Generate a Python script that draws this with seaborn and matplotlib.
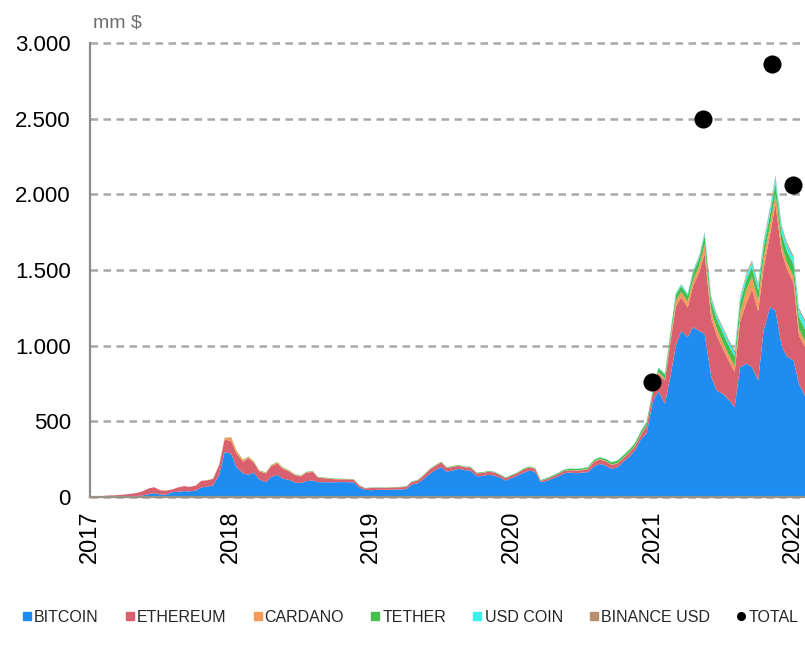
import pandas as pd
import matplotlib
matplotlib.use("Agg")
import matplotlib.pyplot as plt
import matplotlib.dates as mdates
from matplotlib.lines import Line2D
import seaborn as sns

# semi-monthly sampling (1st and 15th), values in mm $ (billions)
dates = pd.date_range("2017-01-01", "2022-02-01", freq="SMS")

bitcoin = [
    0, 0, 0, 0, 1, 2, 4, 8, 10, 13, 22, 29, 20, 18, 35, 38, 42, 40, 46, 66, 72, 80, 150, 300,
    290, 200, 160, 150, 165, 120, 100, 135, 150, 125, 115, 100, 95, 108, 112, 101, 101, 100, 101, 102, 101, 100, 65, 50,
    48, 51, 51, 51, 52, 53, 55, 85, 95, 120, 156, 180, 200, 170, 180, 189, 180, 178, 140, 142, 150, 145, 130, 112,
    130, 145, 165, 178, 170, 100, 110, 125, 140, 160, 165, 160, 165, 167, 205, 222, 210, 189, 200, 234, 270, 311, 388, 423,
    641, 700, 620, 800, 1000, 1100, 1060, 1126, 1100, 1082, 800, 707, 685, 650, 597, 861, 885, 861, 773, 1100, 1258, 1236, 1000, 930,
    906, 751, 663,
]
ethereum = [
    1, 2, 10, 13, 13, 14, 16, 16, 20, 27, 38, 39, 28, 27, 18, 28, 33, 30, 32, 43, 42, 43, 66, 83,
    83, 90, 76, 109, 65, 53, 59, 72, 74, 65, 56, 48, 44, 55, 57, 29, 26, 23, 19, 18, 18, 18, 12, 10,
    15, 13, 12, 13, 14, 14, 15, 17, 17, 22, 28, 28, 31, 24, 23, 20, 19, 20, 19, 20, 20, 20, 17, 15,
    16, 16, 22, 20, 18, 9, 12, 12, 16, 15, 15, 17, 15, 19, 30, 29, 28, 26, 25, 23, 28, 26, 28, 48,
    50, 119, 153, 223, 260, 223, 195, 273, 389, 531, 382, 366, 298, 261, 232, 300, 403, 515, 457, 411, 480, 704, 620, 579,
    512, 320, 327,
]
cardano = [
    0, 0, 0, 0, 0, 0, 0, 0, 0, 0, 0, 0, 0, 0, 0, 0, 0, 0, 0.6, 0.8, 0.8, 1.5, 3, 10,
    25, 18, 12, 9, 8, 5, 4, 6, 9, 7, 6, 4, 3.5, 3.8, 3.5, 2.5, 2.6, 2, 2.2, 2.1, 1.9, 1.8, 1, 0.8,
    1, 1.2, 1.1, 1.2, 1.2, 1.3, 1.6, 2.2, 2.0, 2.0, 2.4, 2.4, 2.3, 1.8, 1.6, 1.3, 1.2, 1.2, 1.0, 1.0, 1.2, 1.2, 1.0, 0.9,
    1.0, 1.2, 1.5, 2.2, 1.6, 0.9, 0.8, 0.9, 1.3, 1.4, 2.0, 2.2, 2.6, 3.7, 4.0, 4.0, 3.0, 2.9, 3.0, 3.0, 3.0, 3.4, 5.0, 5.0,
    5.5, 10, 12, 25, 43, 35, 38, 40, 42, 60, 55, 47, 44, 39, 41, 60, 90, 80, 70, 70, 65, 63, 50, 42,
    44, 45, 35,
]
tether = [
    0, 0, 0, 0, 0, 0, 0, 0, 0, 0, 0, 0, 0.1, 0.1, 0.1, 0.2, 0.3, 0.4, 0.4, 0.5, 0.6, 0.7, 1.0, 1.3,
    1.4, 1.6, 2.2, 2.2, 2.2, 2.3, 2.3, 2.3, 2.3, 2.5, 2.6, 2.7, 2.7, 2.7, 2.7, 2.8, 2.8, 2.8, 2.8, 2.3, 1.9, 1.8, 1.8, 1.9,
    2.0, 2.0, 2.0, 2.0, 2.0, 2.1, 2.4, 2.8, 2.9, 3.0, 3.2, 3.4, 3.6, 4.0, 4.0, 4.0, 4.0, 4.1, 4.1, 4.1, 4.1, 4.1, 4.1, 4.1,
    4.1, 4.4, 4.6, 4.6, 4.7, 5.0, 6.3, 6.6, 7.0, 8.1, 9.0, 9.2, 9.2, 9.8, 10.0, 10.0, 12.7, 14.5, 15.5, 15.9, 16.4, 17.0, 18.5, 20.0,
    21, 25, 27, 33, 36, 39, 41, 45, 50, 57, 61, 62, 62, 62, 62, 63, 66, 68, 69, 69, 70, 74, 75, 77,
    78, 78, 78,
]
usd_coin = [
    0, 0, 0, 0, 0, 0, 0, 0, 0, 0, 0, 0, 0, 0, 0, 0, 0, 0, 0, 0, 0, 0, 0, 0,
    0, 0, 0, 0, 0, 0, 0, 0, 0, 0, 0, 0, 0, 0, 0, 0, 0, 0, 0.1, 0.15, 0.2, 0.25, 0.3, 0.3,
    0.3, 0.3, 0.3, 0.25, 0.25, 0.25, 0.25, 0.25, 0.25, 0.3, 0.35, 0.4, 0.4, 0.45, 0.45, 0.45, 0.45, 0.45, 0.45, 0.45, 0.45, 0.5, 0.5, 0.5,
    0.5, 0.5, 0.5, 0.6, 0.6, 0.6, 0.7, 0.7, 0.8, 0.8, 0.9, 0.9, 1.0, 1.1, 1.2, 1.2, 1.6, 1.8, 2.0, 2.1, 2.8, 3.0, 3.1, 3.5,
    4, 5, 6, 7, 9, 10, 11, 12, 14, 17, 22, 24, 26, 27, 27, 27, 28, 30, 32, 32, 33, 37, 41, 42,
    42, 45, 49,
]
binance_usd = [
    0, 0, 0, 0, 0, 0, 0, 0, 0, 0, 0, 0, 0, 0, 0, 0, 0, 0, 0, 0, 0, 0, 0, 0,
    0, 0, 0, 0, 0, 0, 0, 0, 0, 0, 0, 0, 0, 0, 0, 0, 0, 0, 0, 0, 0, 0, 0, 0,
    0, 0, 0, 0, 0, 0, 0, 0, 0, 0, 0, 0, 0, 0, 0, 0, 0, 0.02, 0.03, 0.05, 0.08, 0.1, 0.15, 0.15,
    0.2, 0.2, 0.2, 0.2, 0.2, 0.2, 0.2, 0.2, 0.2, 0.2, 0.2, 0.2, 0.2, 0.2, 0.2, 0.2, 0.2, 0.3, 0.3, 0.4, 0.5, 0.6, 0.7, 0.8,
    1.0, 1.2, 1.6, 2.2, 2.5, 3.0, 3.3, 4.0, 5.5, 7.5, 9.0, 10, 11, 11, 12, 12, 13, 13, 13, 13, 13, 14, 14, 14,
    14, 14, 15,
]

# total market dots
total_dates = pd.to_datetime(["2020-12-31", "2021-05-11", "2021-11-08", "2021-12-31"])
total_values = [760, 2498, 2862, 2062]

series_names = ["BITCOIN", "ETHEREUM", "CARDANO", "TETHER", "USD COIN", "BINANCE USD"]
colors = ["#1E8CF0", "#D9606E", "#F59A58", "#45BE4E", "#3CF0EC", "#B8906E"]

sns.set_style("white")
plt.rcParams["font.family"] = ["Liberation Sans", "DejaVu Sans"]

fig, ax = plt.subplots(figsize=(8.05, 6.56), dpi=100)
fig.subplots_adjust(left=0.112, right=1.0, bottom=0.2424, top=0.9345)

ax.stackplot(dates, bitcoin, ethereum, cardano, tether, usd_coin, binance_usd,
             colors=colors, linewidth=0, zorder=2)
sns.scatterplot(x=total_dates, y=total_values, color="black", s=170,
                linewidth=0, ax=ax, zorder=5, legend=False, clip_on=False)

ax.set_xlim(pd.Timestamp("2017-01-01"), pd.Timestamp("2022-02-01"))
ax.set_ylim(0, 3000)
yticks = list(range(0, 3001, 500))
ax.set_yticks(yticks)
ax.set_yticklabels([f"{v:,}".replace(",", ".") for v in yticks])
ax.xaxis.set_major_locator(mdates.YearLocator())
ax.xaxis.set_major_formatter(mdates.DateFormatter("%Y"))
plt.setp(ax.get_xticklabels(), rotation=90)

ax.set_axisbelow(True)
ax.grid(axis="y", color="#A8A8A8", linestyle=(0, (3, 2.2)), linewidth=1.8)
ax.grid(axis="x", visible=False)
for gl in ax.get_ygridlines():
    gl.set_clip_on(False)

sns.despine(ax=ax)
ax.spines["left"].set_color("#8C8C8C")
ax.spines["left"].set_linewidth(1.6)
ax.spines["bottom"].set_color("#9A9288")
ax.spines["bottom"].set_linewidth(1.6)
ax.spines["left"].set_zorder(3)
ax.spines["bottom"].set_zorder(3)

ax.tick_params(axis="y", labelsize=16, length=0, pad=14, labelcolor="black")
ax.tick_params(axis="x", labelsize=17, length=0, pad=10, labelcolor="black")
ax.set_xlabel("")
ax.set_ylabel("")

fig.text(0.116, 0.958, "mm $", fontsize=14, color="#707070", ha="left", va="baseline")

handles = [Line2D([], [], marker="s", linestyle="", markersize=5.5, color=c) for c in colors]
handles.append(Line2D([], [], marker="o", linestyle="", markersize=5.5, color="black"))
fig.legend(handles, series_names + ["TOTAL"], loc="center", bbox_to_anchor=(0.51, 0.059),
           ncol=7, frameon=False, handlelength=0.5, handletextpad=0.2, columnspacing=1.7,
           prop={"family": ["Liberation Sans Narrow", "Liberation Sans"], "size": 11.5})

plt.savefig("out.png", dpi=100)
